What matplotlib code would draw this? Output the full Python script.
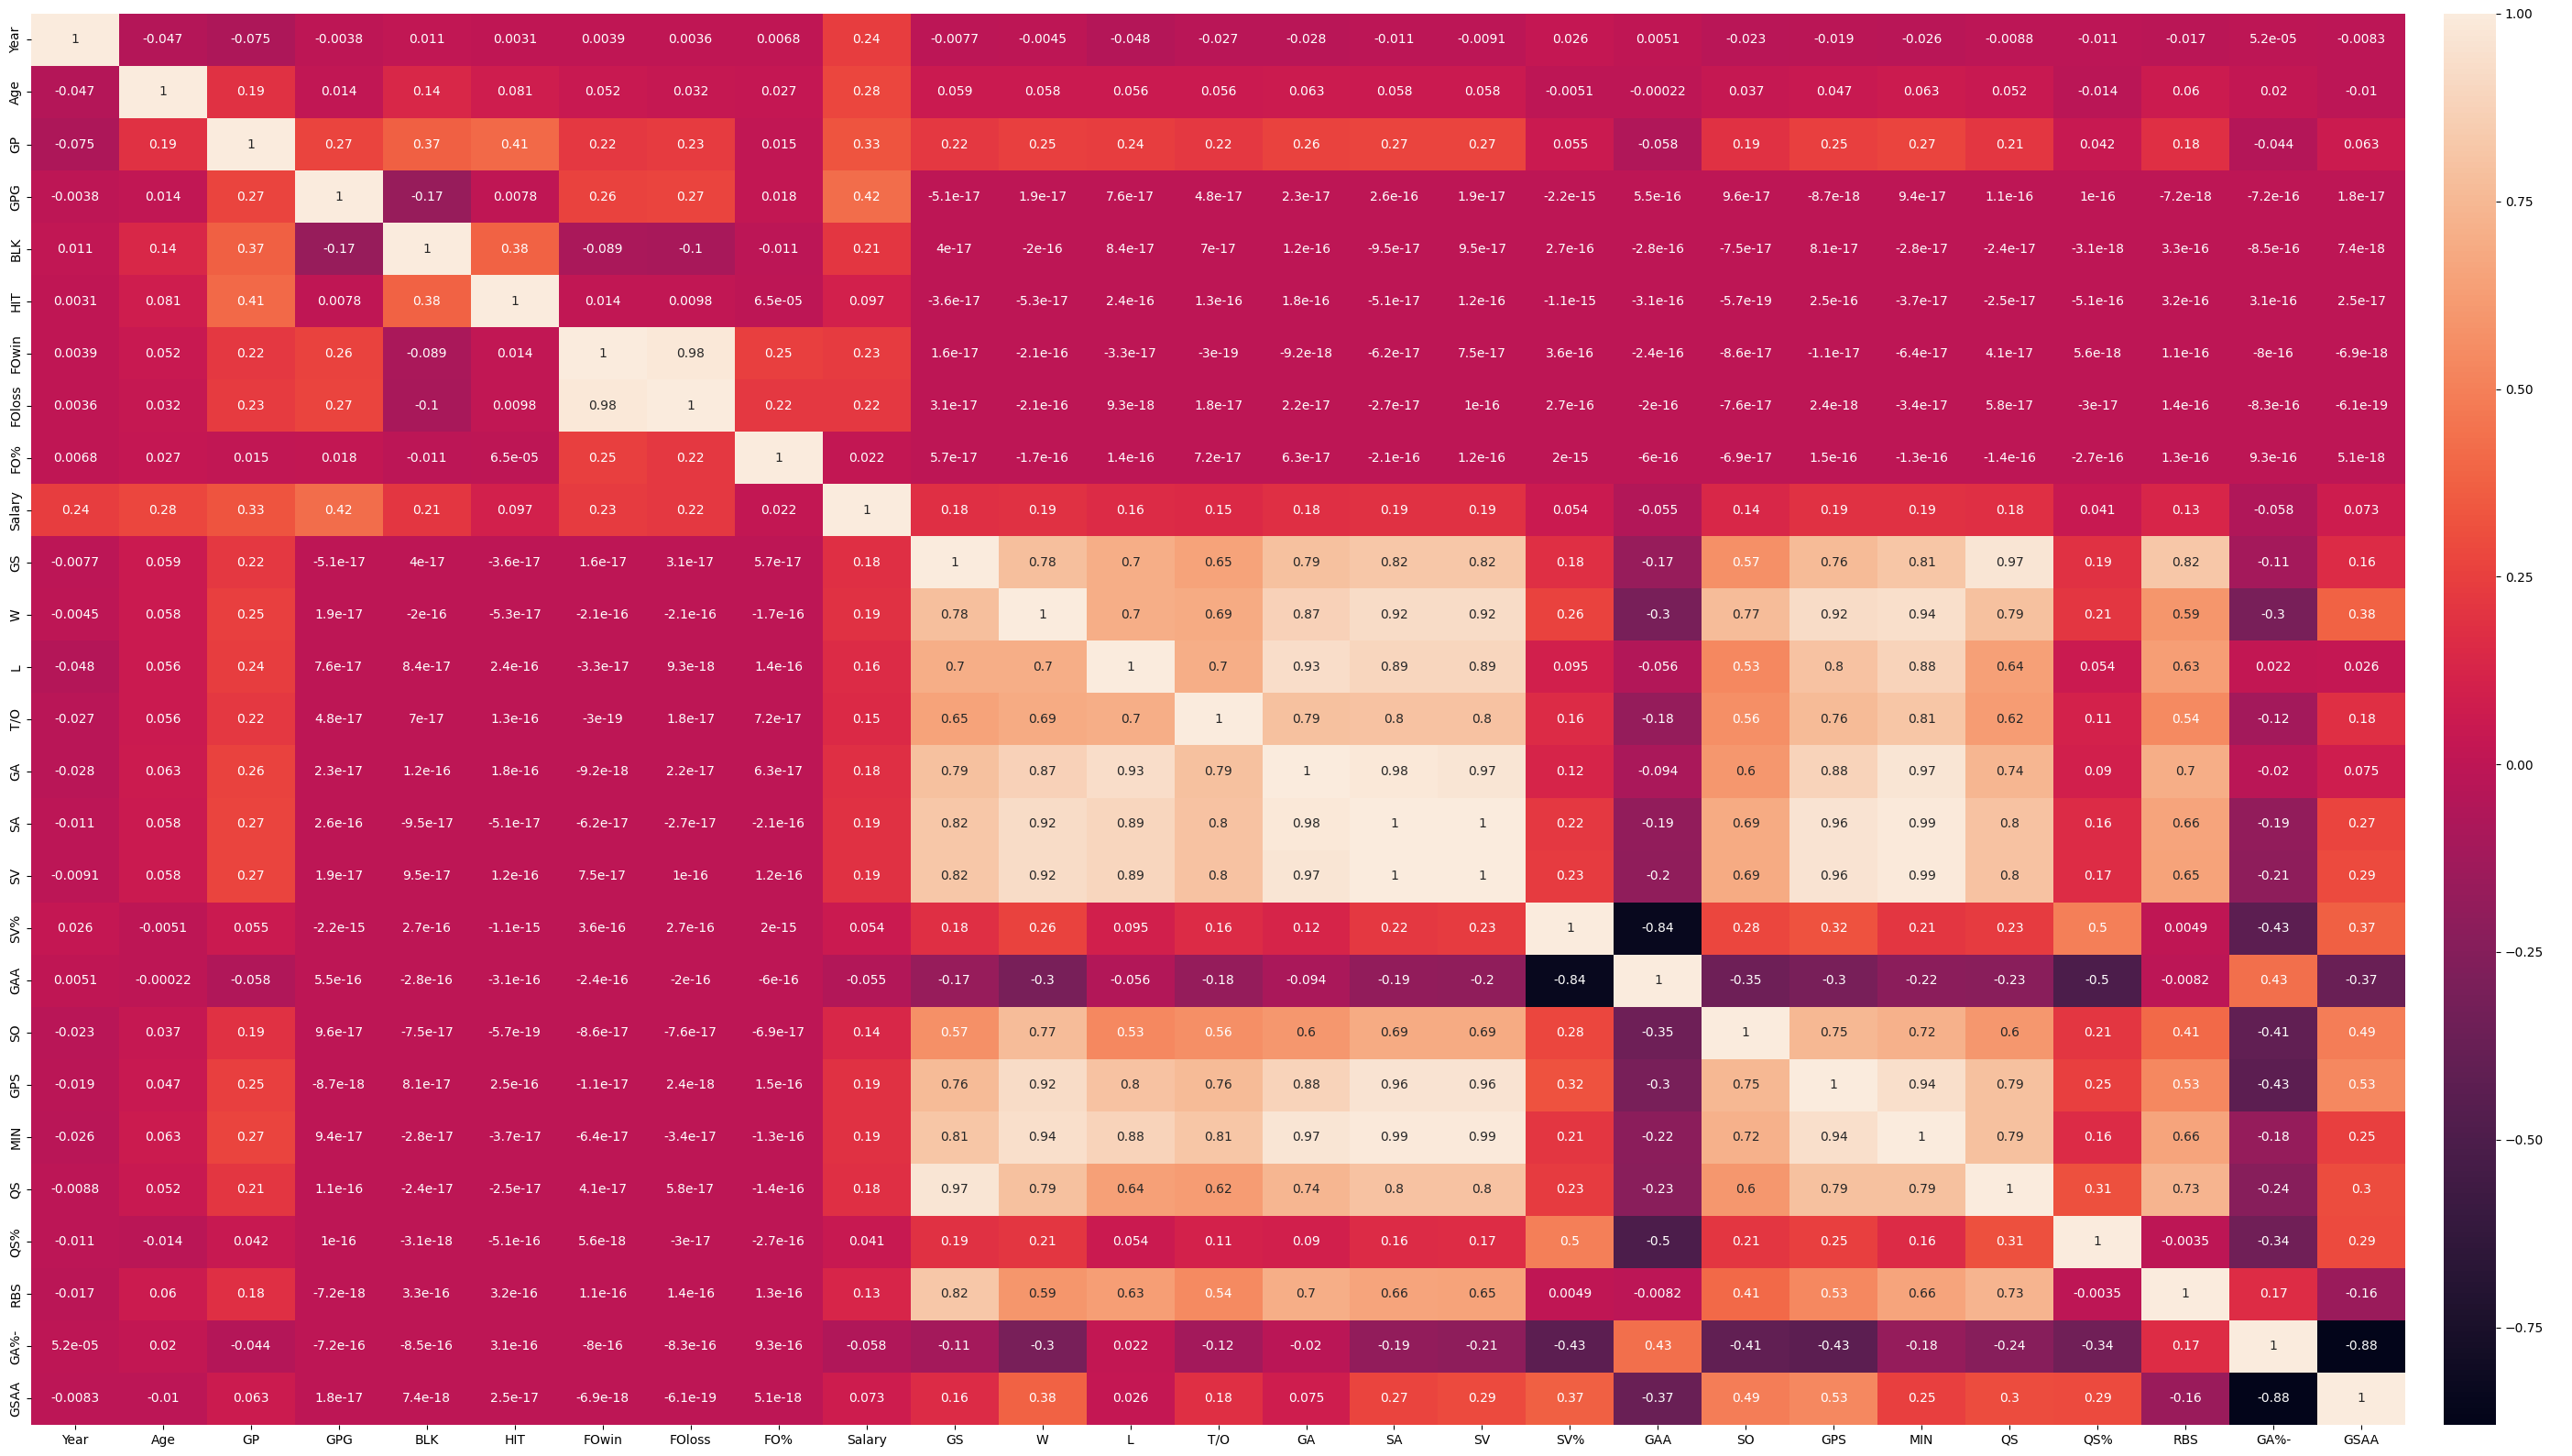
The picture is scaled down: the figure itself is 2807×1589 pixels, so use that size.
import numpy as np
import matplotlib
matplotlib.use('Agg')
import matplotlib.pyplot as plt
import seaborn as sns

labels = ['Year', 'Age', 'GP', 'GPG', 'BLK', 'HIT', 'FOwin', 'FOloss', 'FO%', 'Salary',
          'GS', 'W', 'L', 'T/O', 'GA', 'SA', 'SV', 'SV%', 'GAA', 'SO', 'GPS', 'MIN',
          'QS', 'QS%', 'RBS', 'GA%-', 'GSAA']

# lower triangle of the correlation matrix, one list per row (diagonal = 1)
r_year = []
r_age = [-0.047]
r_gp = [-0.075, 0.19]
r_gpg = [-0.0038, 0.014, 0.27]
r_blk = [0.011, 0.14, 0.37, -0.17]
r_hit = [0.0031, 0.081, 0.41, 0.0078, 0.38]
r_fowin = [0.0039, 0.052, 0.22, 0.26, -0.089, 0.014]
r_foloss = [0.0036, 0.032, 0.23, 0.27, -0.1, 0.0098, 0.98]
r_fopct = [0.0068, 0.027, 0.015, 0.018, -0.011, 6.5e-05, 0.25, 0.22]
r_salary = [0.24, 0.28, 0.33, 0.42, 0.21, 0.097, 0.23, 0.22, 0.022]
r_gs = [-0.0077, 0.059, 0.22, -5.1e-17, 4e-17, -3.6e-17, 1.6e-17, 3.1e-17, 5.7e-17, 0.18]
r_w = [-0.0045, 0.058, 0.25, 1.9e-17, -2e-16, -5.3e-17, -2.1e-16, -2.1e-16, -1.7e-16, 0.19,
       0.78]
r_l = [-0.048, 0.056, 0.24, 7.6e-17, 8.4e-17, 2.4e-16, -3.3e-17, 9.3e-18, 1.4e-16, 0.16,
       0.7, 0.7]
r_to = [-0.027, 0.056, 0.22, 4.8e-17, 7e-17, 1.3e-16, -3e-19, 1.8e-17, 7.2e-17, 0.15,
        0.65, 0.69, 0.7]
r_ga = [-0.028, 0.063, 0.26, 2.3e-17, 1.2e-16, 1.8e-16, -9.2e-18, 2.2e-17, 6.3e-17, 0.18,
        0.79, 0.87, 0.93, 0.79]
r_sa = [-0.011, 0.058, 0.27, 2.6e-16, -9.5e-17, -5.1e-17, -6.2e-17, -2.7e-17, -2.1e-16, 0.19,
        0.82, 0.92, 0.89, 0.8, 0.98]
r_sv = [-0.0091, 0.058, 0.27, 1.9e-17, 9.5e-17, 1.2e-16, 7.5e-17, 1e-16, 1.2e-16, 0.19,
        0.82, 0.92, 0.89, 0.8, 0.97, 1.0]
r_svpct = [0.026, -0.0051, 0.055, -2.2e-15, 2.7e-16, -1.1e-15, 3.6e-16, 2.7e-16, 2e-15, 0.054,
           0.18, 0.26, 0.095, 0.16, 0.12, 0.22, 0.23]
r_gaa = [0.0051, -0.00022, -0.058, 5.5e-16, -2.8e-16, -3.1e-16, -2.4e-16, -2e-16, -6e-16, -0.055,
         -0.17, -0.3, -0.056, -0.18, -0.094, -0.19, -0.2, -0.84]
r_so = [-0.023, 0.037, 0.19, 9.6e-17, -7.5e-17, -5.7e-19, -8.6e-17, -7.6e-17, -6.9e-17, 0.14,
        0.57, 0.77, 0.53, 0.56, 0.6, 0.69, 0.69, 0.28, -0.35]
r_gps = [-0.019, 0.047, 0.25, -8.7e-18, 8.1e-17, 2.5e-16, -1.1e-17, 2.4e-18, 1.5e-16, 0.19,
         0.76, 0.92, 0.8, 0.76, 0.88, 0.96, 0.96, 0.32, -0.3, 0.75]
r_min = [-0.026, 0.063, 0.27, 9.4e-17, -2.8e-17, -3.7e-17, -6.4e-17, -3.4e-17, -1.3e-16, 0.19,
         0.81, 0.94, 0.88, 0.81, 0.97, 0.99, 0.99, 0.21, -0.22, 0.72, 0.94]
r_qs = [-0.0088, 0.052, 0.21, 1.1e-16, -2.4e-17, -2.5e-17, 4.1e-17, 5.8e-17, -1.4e-16, 0.18,
        0.97, 0.79, 0.64, 0.62, 0.74, 0.8, 0.8, 0.23, -0.23, 0.6, 0.79, 0.79]
r_qspct = [-0.011, -0.014, 0.042, 1e-16, -3.1e-18, -5.1e-16, 5.6e-18, -3e-17, -2.7e-16, 0.041,
           0.19, 0.21, 0.054, 0.11, 0.09, 0.16, 0.17, 0.5, -0.5, 0.21, 0.25, 0.16, 0.31]
r_rbs = [-0.017, 0.06, 0.18, -7.2e-18, 3.3e-16, 3.2e-16, 1.1e-16, 1.4e-16, 1.3e-16, 0.13,
         0.82, 0.59, 0.63, 0.54, 0.7, 0.66, 0.65, 0.0049, -0.0082, 0.41, 0.53, 0.66, 0.73,
         -0.0035]
r_gapct = [5.2e-05, 0.02, -0.044, -7.2e-16, -8.5e-16, 3.1e-16, -8e-16, -8.3e-16, 9.3e-16, -0.058,
           -0.11, -0.3, 0.022, -0.12, -0.02, -0.19, -0.21, -0.43, 0.43, -0.41, -0.43, -0.18,
           -0.24, -0.34, 0.17]
r_gsaa = [-0.0083, -0.01, 0.063, 1.8e-17, 7.4e-18, 2.5e-17, -6.9e-18, -6.1e-19, 5.1e-18, 0.073,
          0.16, 0.38, 0.026, 0.18, 0.075, 0.27, 0.29, 0.37, -0.37, 0.49, 0.53, 0.25, 0.3,
          0.29, -0.16, -0.88]

rows = [r_year, r_age, r_gp, r_gpg, r_blk, r_hit, r_fowin, r_foloss, r_fopct, r_salary,
        r_gs, r_w, r_l, r_to, r_ga, r_sa, r_sv, r_svpct, r_gaa, r_so, r_gps, r_min,
        r_qs, r_qspct, r_rbs, r_gapct, r_gsaa]

n = len(labels)
corr = np.eye(n)
for i, r in enumerate(rows):
    for j, v in enumerate(r):
        corr[i, j] = v
        corr[j, i] = v

fig = plt.figure(figsize=(28.07, 15.89), dpi=100)
ax = fig.add_axes([0.0121, 0.0214, 0.9231, 0.9692])
cax = fig.add_axes([0.9501, 0.0214, 0.0203, 0.9692])

sns.heatmap(corr, annot=True, ax=ax, cbar_ax=cax,
            xticklabels=labels, yticklabels=labels)

fig.savefig('out.png', dpi=100)
